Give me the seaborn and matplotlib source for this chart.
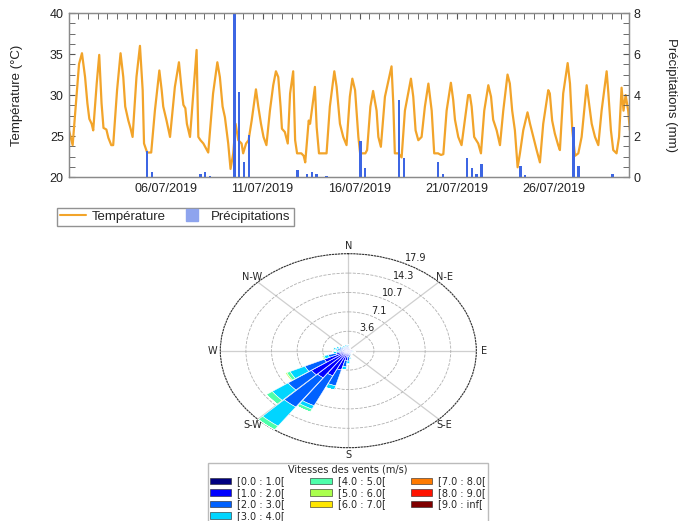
import numpy as np
import pandas as pd
import matplotlib
matplotlib.use("Agg")
import matplotlib.pyplot as plt
import matplotlib.dates as mdates
from matplotlib.ticker import AutoMinorLocator
from matplotlib.lines import Line2D
from matplotlib.patches import Rectangle
import seaborn as sns

# ============================
# DATA
# ============================

START = pd.Timestamp("2019-07-01 00:00")

# temperature: days since 01/07/2019 00:00 -> °C
temp_day = [0.00, 0.21, 0.42, 0.54, 0.69, 0.85, 0.97, 1.07, 1.19, 1.27, 1.45, 1.58, 1.70, 1.80,
            1.95, 2.05, 2.20, 2.30, 2.50, 2.68, 2.82, 2.92, 3.08, 3.20, 3.30, 3.50, 3.68, 3.82,
            3.89, 4.05, 4.26, 4.45, 4.68, 4.80, 4.88, 5.05, 5.23, 5.48, 5.69, 5.83, 5.92, 6.02,
            6.10, 6.26, 6.43, 6.60, 6.69, 6.80, 6.95, 7.20, 7.45, 7.67, 7.80, 7.94, 8.06, 8.23,
            8.35, 8.49, 8.61, 8.75, 8.92, 9.00, 9.15, 9.28, 9.44, 9.66, 9.78, 9.92, 10.05, 10.20,
            10.38, 10.55, 10.69, 10.81, 10.93, 11.00, 11.15, 11.30, 11.42, 11.58, 11.68, 11.78,
            12.00, 12.12, 12.20, 12.38, 12.45, 12.70, 12.79, 12.91, 13.30, 13.47, 13.70, 13.82,
            13.99, 14.16, 14.33, 14.50, 14.63, 14.77, 14.94, 15.03, 15.30, 15.39, 15.56, 15.70,
            15.88, 15.97, 16.10, 16.31, 16.65, 16.74, 16.82, 17.00, 17.17, 17.34, 17.65, 17.77,
            17.89, 18.03, 18.20, 18.37, 18.55, 18.72, 18.85, 19.05, 19.20, 19.32, 19.49, 19.71,
            19.83, 19.92, 20.09, 20.26, 20.43, 20.60, 20.69, 20.78, 20.91, 21.12, 21.26, 21.43,
            21.64, 21.78, 21.89, 22.07, 22.24, 22.41, 22.63, 22.75, 22.87, 23.01, 23.15, 23.27,
            23.44, 23.66, 23.79, 23.96, 24.13, 24.30, 24.47, 24.73, 24.81, 24.93, 25.07, 25.24,
            25.33, 25.50, 25.73, 25.85, 25.97, 26.11, 26.28, 26.45, 26.71, 26.83, 26.97, 27.14,
            27.31, 27.48, 27.74, 27.83, 27.96, 28.08, 28.25, 28.38, 28.51, 28.61, 28.72, 28.85,
            28.94]
temp_val = [25.9, 23.9, 30.2, 33.8, 35.1, 32.2, 29.0, 27.1, 26.5, 25.7, 31.4, 34.9, 29.0, 26.0,
            25.8, 24.8, 23.9, 23.9, 30.6, 35.1, 32.2, 28.6, 26.9, 25.9, 24.9, 32.2, 36.0, 30.6,
            24.1, 23.0, 23.0, 28.1, 33.0, 30.6, 28.6, 26.9, 24.9, 31.0, 34.0, 30.6, 28.8, 28.4,
            26.5, 24.9, 30.2, 35.5, 24.9, 24.5, 24.1, 23.0, 30.2, 34.0, 32.2, 28.6, 27.3, 24.1,
            21.0, 22.9, 26.5, 24.5, 24.1, 22.9, 24.1, 24.5, 26.9, 30.7, 28.6, 26.5, 24.9, 23.9,
            28.1, 31.2, 32.9, 32.2, 28.6, 25.9, 25.5, 24.1, 30.2, 32.9, 24.5, 22.9,
            22.9, 22.6, 21.8, 26.9, 26.5, 31.0, 26.1, 22.9, 22.9, 28.6, 32.9, 31.0,
            26.5, 24.9, 23.9, 29.8, 32.0, 30.6, 24.9, 22.9, 22.9, 23.3, 28.6, 30.5,
            28.1, 24.9, 23.7, 29.8, 33.5, 29.0, 22.9, 22.9, 22.4, 28.1, 32.0, 29.8,
            25.7, 24.5, 24.9, 28.6, 31.4, 28.1, 22.9, 22.9, 22.7, 22.8, 28.1, 31.5,
            29.4, 27.0, 24.9, 23.9, 27.0, 30.0, 30.0, 28.6, 24.9, 24.1, 22.9, 28.1,
            31.2, 29.8, 27.0, 25.7, 23.9, 28.1, 32.5, 31.4, 28.1, 25.7, 21.2, 22.9,
            25.7, 27.9, 26.5, 24.9, 23.3, 21.8, 26.5, 30.6, 30.2, 26.9, 25.3, 23.9,
            23.3, 30.2, 33.9, 31.4, 25.7, 22.6, 22.9, 24.9, 31.2, 29.0, 26.5, 24.9,
            23.9, 28.1, 32.9, 30.2, 25.7, 23.3, 22.9, 24.9, 30.9, 28.1, 30.0, 28.1,
            25.7]

# precipitation bars (mm)
rain_time = ["2019-07-05 00:00", "2019-07-05 06:00", "2019-07-07 18:00", "2019-07-08 00:00",
             "2019-07-08 06:00", "2019-07-09 12:00", "2019-07-09 18:00", "2019-07-10 00:00",
             "2019-07-10 06:00", "2019-07-12 18:00", "2019-07-13 06:00", "2019-07-13 12:00",
             "2019-07-13 18:00", "2019-07-14 06:00", "2019-07-16 00:00", "2019-07-16 06:00",
             "2019-07-18 00:00", "2019-07-18 06:00", "2019-07-20 00:00", "2019-07-20 06:00",
             "2019-07-21 12:00", "2019-07-21 18:00", "2019-07-22 00:00", "2019-07-22 06:00",
             "2019-07-24 06:00", "2019-07-24 12:00", "2019-07-27 00:00", "2019-07-27 06:00",
             "2019-07-29 00:00"]
rain_mm = [1.25, 0.23, 0.15, 0.26, 0.05, 8.0, 4.15, 0.73, 2.05, 0.33, 0.13, 0.23, 0.13, 0.05,
           1.76, 0.44, 3.78, 0.93, 0.73, 0.13, 0.94, 0.44, 0.16, 0.64, 0.54, 0.08, 2.46, 0.55,
           0.16]

# wind rose: 36 sectors of 10°, frequency (%) per speed class
sectors = list(range(0, 360, 10))
speed_labels = ["[0.0 : 1.0[", "[1.0 : 2.0[", "[2.0 : 3.0[", "[3.0 : 4.0[", "[4.0 : 5.0[",
                "[5.0 : 6.0[", "[6.0 : 7.0[", "[7.0 : 8.0[", "[8.0 : 9.0[", "[9.0 : inf["]
f_0_1 = [0.2, 0.2, 0.15, 0.15, 0.1, 0.1, 0.1, 0.1, 0.15, 0.15, 0.15, 0.15, 0.15, 0.15, 0.15, 0.15,
         0.2, 0.2, 0.2, 0.2, 0.2, 0.3, 0.3, 0.3, 0.2, 0.2, 0.2, 0.2, 0.2, 0.2, 0.2, 0.2, 0.2, 0.2,
         0.2, 0.2]
f_1_2 = [0.4, 0.3, 0.25, 0.2, 0.2, 0.2, 0.2, 0.25, 0.3, 0.35, 0.35, 0.3, 0.3, 0.3, 0.3, 0.35,
         0.45, 0.6, 0.9, 1.6, 3.5, 4.8, 5.8, 6.0, 3.5, 1.6, 0.9, 0.6, 0.7, 0.6, 0.5, 0.4, 0.4, 0.3,
         0.4, 0.4]
f_2_3 = [0.3, 0.2, 0.15, 0.1, 0.1, 0.1, 0.1, 0.15, 0.2, 0.25, 0.25, 0.2, 0.2, 0.2, 0.2, 0.25,
         0.3, 0.5, 0.8, 1.2, 3.0, 6.1, 6.6, 4.0, 3.0, 1.1, 0.6, 0.5, 0.6, 0.5, 0.4, 0.3, 0.3, 0.3,
         0.3, 0.3]
f_3_4 = [0.2, 0.1, 0.1, 0.05, 0.05, 0.05, 0.05, 0.05, 0.1, 0.15, 0.15, 0.1, 0.1, 0.1, 0.1, 0.15,
         0.2, 0.3, 0.5, 0.5, 0.8, 0.7, 4.3, 2.7, 2.3, 0.6, 0.4, 0.4, 0.6, 0.5, 0.3, 0.3, 0.3, 0.3,
         0.4, 0.3]
f_4_5 = [0, 0, 0, 0, 0, 0, 0, 0, 0, 0, 0.05, 0.05, 0, 0, 0, 0, 0, 0, 0.1, 0.1, 0, 0.6, 0.86,
         1.0, 0.5, 0.2, 0.1, 0.1, 0.1, 0, 0, 0, 0, 0, 0, 0]
f_5_6 = [0, 0, 0, 0, 0, 0, 0, 0, 0, 0, 0, 0.05, 0, 0, 0, 0, 0, 0, 0, 0, 0, 0, 0, 0, 0.2, 0.15,
         0.05, 0.05, 0, 0, 0, 0, 0, 0, 0, 0]
f_6_7 = [0, 0, 0, 0, 0, 0, 0, 0, 0, 0, 0, 0.05, 0, 0, 0, 0, 0, 0, 0, 0, 0, 0, 0, 0, 0.1, 0.05,
         0, 0, 0, 0, 0, 0, 0, 0, 0, 0]
f_7_8 = [0, 0, 0, 0, 0, 0, 0, 0, 0, 0, 0, 0.1, 0, 0, 0, 0, 0, 0, 0, 0, 0, 0, 0, 0, 0, 0,
         0, 0, 0, 0, 0, 0, 0, 0, 0, 0]
f_8_9 = [0, 0, 0, 0, 0, 0, 0, 0, 0, 0, 0, 0.1, 0, 0, 0, 0, 0, 0, 0, 0, 0, 0, 0, 0, 0, 0,
         0, 0, 0, 0, 0, 0, 0, 0, 0, 0]
f_9_inf = [0] * 36
rose_max = 17.86

# ============================
# STYLE
# ============================

sns.set_style("white")
plt.rcParams["font.family"] = ["Liberation Sans", "DejaVu Sans"]

TEMP_COLOR = "#F2A42A"
RAIN_COLOR = "#3D66E3"
FRAME = "#8a8a8a"

fig = plt.figure(figsize=(6.81, 5.21), dpi=100)

# ============================
# 1. TEMPERATURE / PRECIPITATION
# ============================

ax = fig.add_axes([0.1007, 0.660, 0.8223, 0.315])
ax2 = ax.twinx()

temp_df = pd.DataFrame({
    "time": START + pd.to_timedelta(temp_day, unit="D"),
    "temp": temp_val,
})
sns.lineplot(data=temp_df, x="time", y="temp", ax=ax, color=TEMP_COLOR, linewidth=1.6,
             legend=False)

rain_x = pd.to_datetime(rain_time) + pd.Timedelta(hours=1)
ax2.bar(rain_x, rain_mm, width=0.13, color=RAIN_COLOR, linewidth=0)

ax.set_xlim(START, START + pd.Timedelta(days=28.87))
ax.set_ylim(20, 40)
ax2.set_ylim(0, 8)
ax.set_yticks(range(20, 41, 5))
ax2.set_yticks(range(0, 9, 2))
ax.yaxis.set_minor_locator(AutoMinorLocator(4))
ax2.yaxis.set_minor_locator(AutoMinorLocator(4))

ax.xaxis.set_major_locator(mdates.DayLocator(bymonthday=[6, 11, 16, 21, 26]))
ax.xaxis.set_minor_locator(mdates.HourLocator(byhour=[0, 12]))
ax.xaxis.set_major_formatter(mdates.DateFormatter("%d/%m/%Y"))

for a in (ax, ax2):
    for sp in a.spines.values():
        sp.set_color(FRAME)
        sp.set_linewidth(0.9)
ax.tick_params(axis="x", which="both", direction="in", top=True, length=4, color="#555",
               labelsize=9, pad=4, labelcolor="#222")
ax.tick_params(axis="y", which="both", direction="in", length=4, color="#555", labelsize=9,
               labelcolor="#222")
ax2.tick_params(axis="y", which="both", direction="in", length=4, color="#555", labelsize=9,
                labelcolor="#222")

ax.set_xlabel("")
ax.set_ylabel("Température (°C)", fontsize=9.5, labelpad=19, color="#222")
ax2.set_ylabel("Précipitations (mm)", fontsize=9.5, rotation=270, labelpad=26, color="#222")

handles = [
    Line2D([], [], color=TEMP_COLOR, lw=1.5),
    Line2D([], [], marker="s", linestyle="", markersize=8, color="#8EA4EE"),
]
fig.legend(handles, ["Température", "Précipitations"], loc="center",
           bbox_to_anchor=(0.2577, 0.5835), ncol=2, fontsize=9.5, frameon=True,
           fancybox=False, edgecolor="#777", handlelength=1.9, handletextpad=0.5,
           columnspacing=1.0, borderpad=0.25)

# ============================
# 2. WIND ROSE
# ============================

rax = fig.add_axes([0.3235, 0.1407, 0.376, 0.3724], projection="polar")
rax.set_aspect("auto")
rax.set_theta_zero_location("N")
rax.set_theta_direction(-1)

classes = [f_0_1, f_1_2, f_2_3, f_3_4, f_4_5, f_5_6, f_6_7, f_7_8, f_8_9, f_9_inf]
colors = plt.cm.jet(np.linspace(0, 1, len(classes)))
theta = np.deg2rad(sectors)
bottom = np.zeros(len(sectors))
for vals, col in zip(classes, colors):
    vals = np.array(vals, dtype=float)
    rax.bar(theta, vals, width=np.deg2rad(10) * 0.95, bottom=bottom, color=col,
            edgecolor="white", linewidth=0.4, zorder=3)
    bottom += vals

rax.set_ylim(0, rose_max)
rticks = np.linspace(0, rose_max, 6)[1:]
rax.set_yticks(rticks)
rax.set_yticklabels([f"{t:.1f}" for t in rticks], fontsize=7, family="DejaVu Sans",
                    color="#222")
rax.set_rlabel_position(26)
rax.set_thetagrids(range(0, 360, 45), labels=["N", "N-E", "E", "S-E", "S", "S-W", "W", "N-W"],
                   fontsize=7, family="DejaVu Sans")
rax.tick_params(axis="x", pad=-5)
rax.xaxis.grid(True, color="#cfcfcf", linewidth=0.9, linestyle="-")
rax.yaxis.grid(True, color="#b0b0b0", linewidth=0.6, linestyle="--")
rax.spines["polar"].set_linestyle(":")
rax.spines["polar"].set_color("#333")
rax.spines["polar"].set_linewidth(0.8)

rose_handles = [Rectangle((0, 0), 1, 1, facecolor=c, edgecolor="#222", linewidth=0.4)
                for c in colors]
leg = fig.legend(rose_handles, speed_labels, loc="upper center",
                 bbox_to_anchor=(348 / 681, 1 - 463 / 521), ncol=3,
                 title="Vitesses des vents (m/s)", title_fontsize=7, frameon=True,
                 fancybox=False, edgecolor="#aaa", handlelength=2.2, handleheight=0.7,
                 labelspacing=0.15, columnspacing=2.6, borderpad=0.2, handletextpad=0.6,
                 borderaxespad=0, prop={"family": "DejaVu Sans", "size": 7})
leg.get_title().set_family("DejaVu Sans")

fig.savefig("out.png", dpi=100)
